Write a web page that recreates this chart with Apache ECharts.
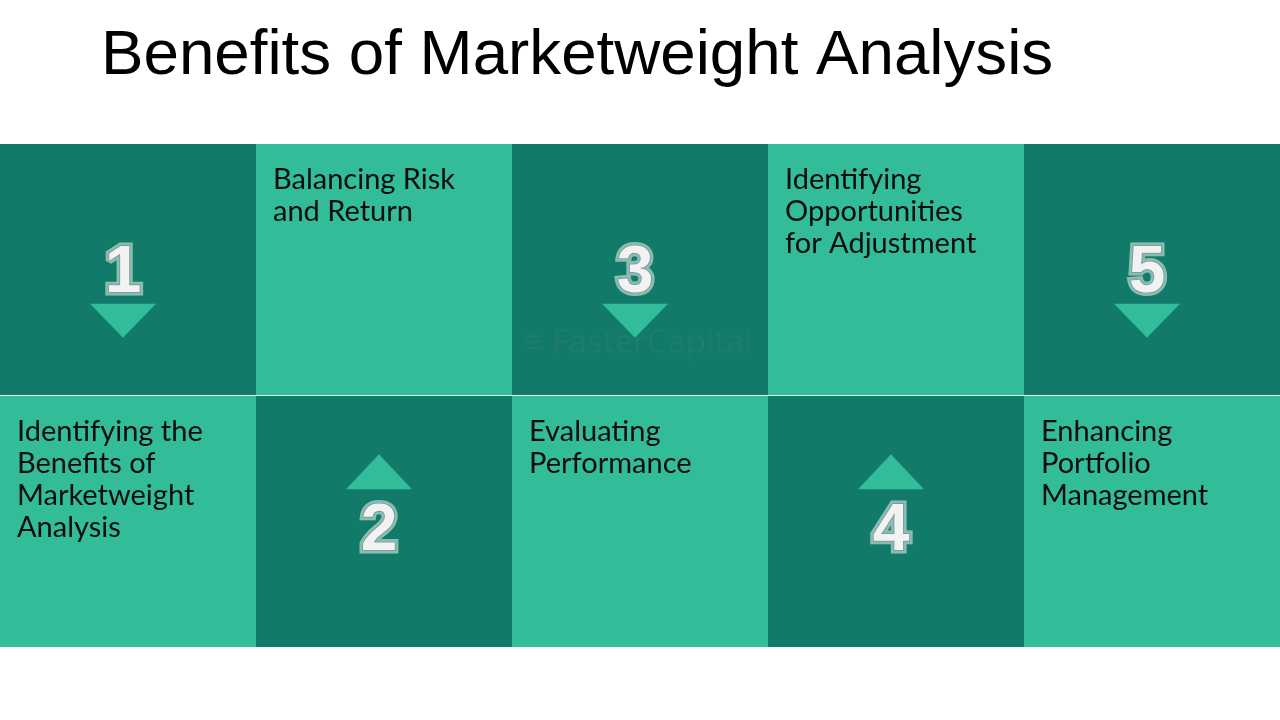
<!DOCTYPE html>
<html>
<head>
<meta charset="utf-8">
<title>Benefits of Marketweight Analysis</title>
<script src="https://cdn.jsdelivr.net/npm/echarts@6/dist/echarts.min.js"></script>
<style>
  html, body { margin: 0; padding: 0; background: #fff; }
  #main { width: 1280px; height: 720px; }
</style>
</head>
<body>
<div id="main"></div>
<script>
// steps of the infographic, left to right
const steps = ['1', '2', '3', '4', '5'];
const stepLabels = [
  'Identifying the\nBenefits of\nMarketweight\nAnalysis',
  'Balancing Risk\nand Return',
  'Evaluating\nPerformance',
  'Identifying\nOpportunities\nfor Adjustment',
  'Enhancing\nPortfolio\nManagement'
];
// row holding the number, and where its arrow points
const numberRows = ['top', 'bottom', 'top', 'bottom', 'top'];
const arrowDirs = ['down', 'up', 'down', 'up', 'down'];
const rows = ['bottom', 'top'];

const DARK = '#117a68';
const LIGHT = '#32bc9a';

var chart = echarts.init(document.getElementById('main'));

function renderStep(params, api) {
  var i = api.value(0);
  var numRow = numberRows[i];
  var labelRow = numRow === 'top' ? 'bottom' : 'top';
  var size = api.size([1, 1]);
  var w = size[0], h = size[1];
  var numC = api.coord([i, numRow]);
  var labC = api.coord([i, labelRow]);
  var cx = numC[0] - 5;
  var cy = numC[1];
  var up = arrowDirs[i] === 'up';

  var tri, digitY;
  if (up) {
    tri = [[cx, cy - 67], [cx + 33, cy - 32], [cx - 33, cy - 32]];
    digitY = cy + 11;
  } else {
    tri = [[cx - 33, cy + 34], [cx + 33, cy + 34], [cx, cy + 68]];
    digitY = cy + 4;
  }
  var font = 'bold 66px "Liberation Sans", Arial, sans-serif';
  var topY = Math.min(numC[1], labC[1]) + h / 2;

  return {
    type: 'group',
    children: [
      { type: 'rect', shape: { x: numC[0] - w / 2, y: numC[1] - h / 2, width: w, height: h }, style: { fill: DARK } },
      { type: 'rect', shape: { x: labC[0] - w / 2, y: labC[1] - h / 2, width: w, height: h }, style: { fill: LIGHT } },
      { type: 'line', shape: { x1: numC[0] - w / 2, y1: topY, x2: numC[0] + w / 2, y2: topY }, style: { stroke: 'rgba(255,255,255,0.85)', lineWidth: 1.2 } },
      { type: 'polygon', shape: { points: tri }, style: { fill: LIGHT } },
      // glow behind the digit
      { type: 'text', style: { text: steps[i], x: cx, y: digitY, font: font, align: 'center', verticalAlign: 'middle',
          fill: '#ffffff', stroke: 'rgba(255,255,255,0.5)', lineWidth: 7, shadowBlur: 12, shadowColor: 'rgba(255,255,255,0.9)' } },
      { type: 'text', style: { text: steps[i], x: cx, y: digitY, font: font, align: 'center', verticalAlign: 'middle',
          fill: '#f1f3f2', stroke: '#7f918c', lineWidth: 1.5 } },
      { type: 'text', style: { text: stepLabels[i], x: labC[0] - w / 2 + 17, y: labC[1] - h / 2 + 20,
          font: '29px Lato, "Open Sans", sans-serif', lineHeight: 32, fill: '#0d0d0d', align: 'left', verticalAlign: 'top' } }
    ]
  };
}

chart.setOption({
  animation: false,
  title: {
    text: 'Benefits of Marketweight Analysis',
    left: 96,
    top: 19,
    textStyle: { fontFamily: '"Liberation Sans", Arial, sans-serif', fontSize: 63.7, fontWeight: 'normal', color: '#000' }
  },
  grid: { left: 0, right: 0, top: 144, bottom: 73 },
  xAxis: { type: 'category', data: steps, show: false },
  yAxis: { type: 'category', data: rows, show: false },
  graphic: [
    { type: 'text', left: 524, top: 327, z: 100, silent: true,
      style: { text: '\u2261 FasterCapital', font: '33px "Open Sans", sans-serif', fill: 'rgba(120,140,135,0.14)' } }
  ],
  series: [{
    type: 'custom',
    renderItem: renderStep,
    data: steps.map(function (s, i) { return [i]; }),
    encode: { x: 0 },
    clip: false
  }]
});
</script>
</body>
</html>
